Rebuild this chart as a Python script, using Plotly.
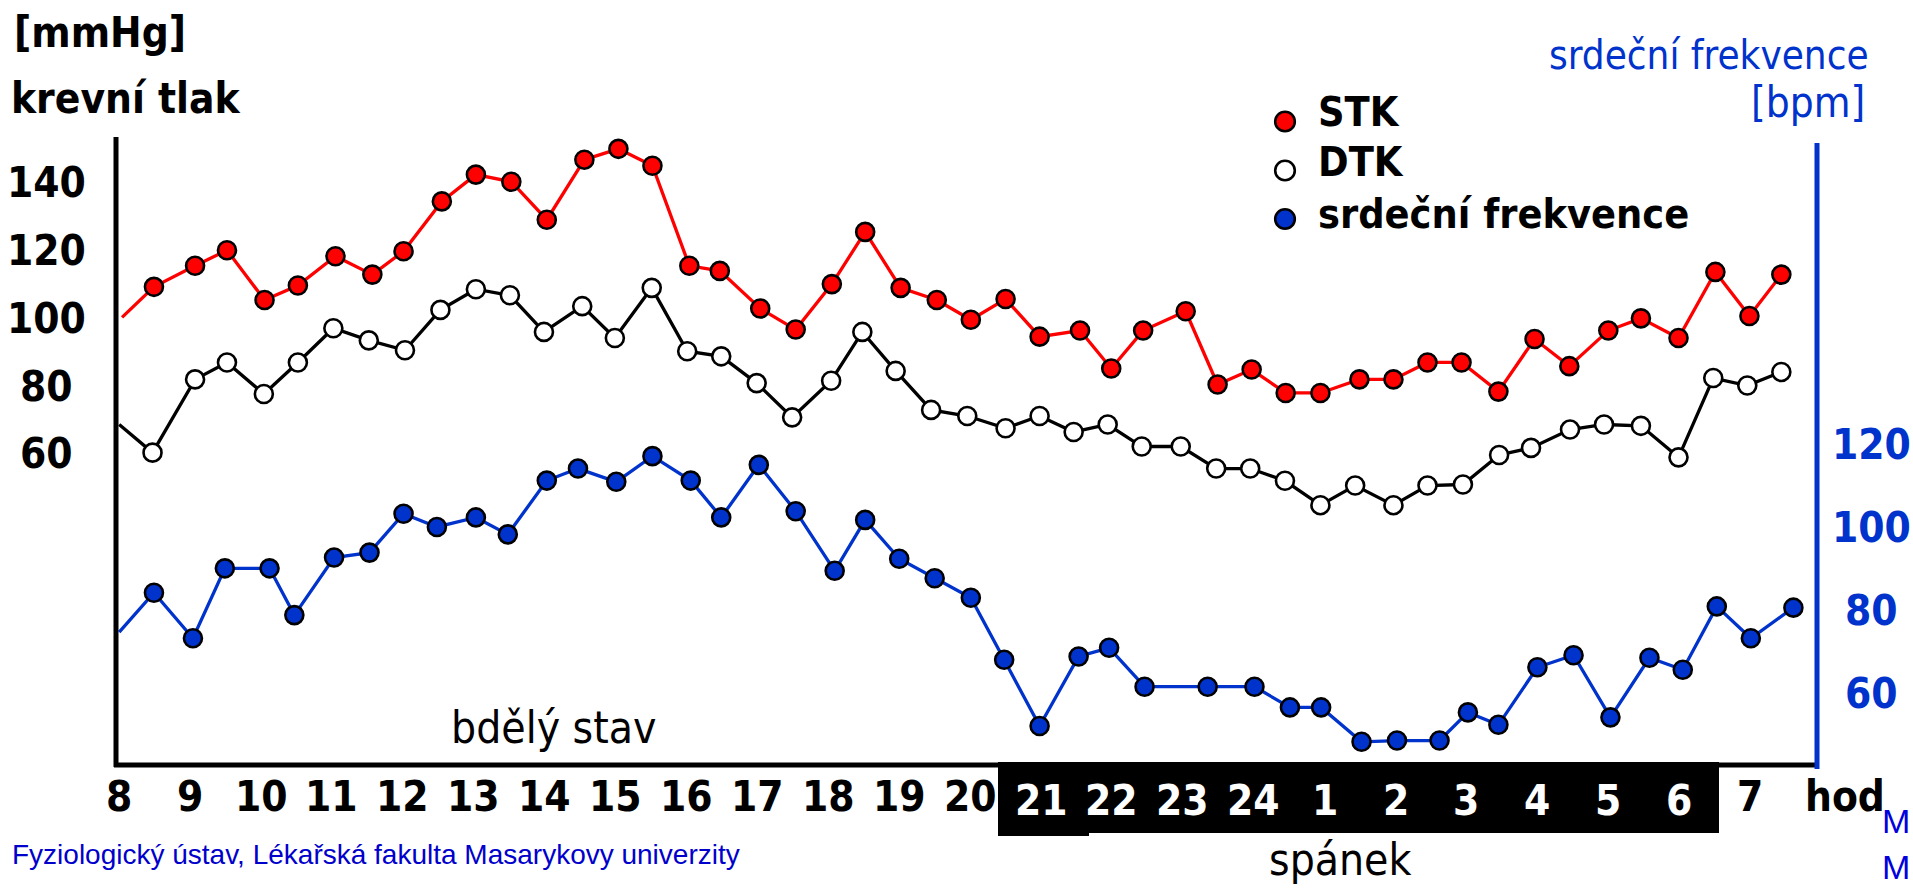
import plotly.graph_objects as go

# ---------------- data (hours: 8 = 8:00 ... 24 = midnight ... 31 = 7:00 next day)
stk_hours = [8.04, 8.49, 9.07, 9.52, 10.05, 10.52, 11.05, 11.57, 12.01, 12.55, 13.03, 13.53,
             14.03, 14.56, 15.04, 15.52, 16.04, 16.47, 17.04, 17.54, 18.05, 18.52, 19.02, 19.53,
             20.01, 20.50, 20.98, 21.55, 21.99, 22.44, 23.04, 23.49, 23.97, 24.45, 24.94, 25.49,
             25.97, 26.45, 26.93, 27.45, 27.96, 28.45, 29.00, 29.46, 29.99, 30.51, 30.99, 31.44]
stk_values = [100.3, 109.3, 115.5, 120.1, 105.4, 109.7, 118.3, 112.9, 119.8, 134.5, 142.4, 140.3,
              129.1, 146.8, 150.0, 145.0, 115.5, 114.0, 102.9, 96.7, 110.1, 125.5, 109.0, 105.4,
              99.6, 105.7, 94.6, 96.4, 85.2, 96.4, 102.1, 80.5, 84.9, 78.0, 78.0, 82.0,
              82.0, 87.0, 87.0, 78.4, 93.9, 85.9, 96.4, 100.0, 94.2, 113.7, 100.7, 112.9]

dtk_hours = [8.00, 8.47, 9.07, 9.52, 10.04, 10.52, 11.02, 11.52, 12.03, 12.53, 13.03, 13.51,
             13.99, 14.53, 14.99, 15.51, 16.01, 16.49, 16.99, 17.49, 18.04, 18.48, 18.95, 19.45,
             19.96, 20.50, 20.98, 21.46, 21.94, 22.42, 22.97, 23.47, 23.95, 24.44, 24.94, 25.43,
             25.97, 26.45, 26.95, 27.46, 27.91, 28.46, 28.94, 29.46, 29.99, 30.48, 30.96, 31.44]
dtk_values = [68.7, 60.4, 82.0, 87.0, 77.7, 87.0, 97.1, 93.5, 90.6, 102.5, 108.6, 106.8,
              96.0, 103.6, 94.2, 109.0, 90.3, 88.8, 80.9, 70.8, 81.6, 96.0, 84.5, 73.0,
              71.2, 67.6, 71.2, 66.5, 68.7, 62.2, 62.2, 55.7, 55.7, 52.1, 44.9, 50.7,
              44.9, 50.7, 51.0, 59.7, 61.8, 67.2, 68.7, 68.3, 59.0, 82.4, 80.2, 84.2]

hr_hours = [8.00, 8.49, 9.04, 9.49, 10.12, 10.47, 11.03, 11.53, 12.01, 12.48, 13.03, 13.48,
            14.03, 14.47, 15.01, 15.52, 16.06, 16.49, 17.02, 17.54, 18.09, 18.52, 19.00, 19.50,
            20.01, 20.48, 20.98, 21.53, 21.96, 22.46, 23.35, 24.01, 24.51, 24.95, 25.52, 26.02,
            26.62, 27.02, 27.45, 28.00, 28.51, 29.03, 29.58, 30.05, 30.53, 31.01, 31.61]
hr_values = [74.8, 84.3, 73.3, 90.2, 90.2, 78.9, 92.8, 94.0, 103.4, 100.2, 102.5, 98.4,
             111.4, 114.3, 111.1, 117.3, 111.4, 102.5, 115.2, 104.0, 89.6, 101.9, 92.5, 87.8,
             83.1, 68.1, 52.1, 68.9, 71.0, 61.6, 61.6, 61.6, 56.6, 56.6, 48.3, 48.6,
             48.6, 55.4, 52.4, 66.3, 69.2, 54.2, 68.6, 65.7, 81.0, 73.3, 80.7]

tick_hours = list(range(8, 32))
tick_labels = ["8", "9", "10", "11", "12", "13", "14", "15", "16", "17", "18", "19", "20",
               "21", "22", "23", "24", "1", "2", "3", "4", "5", "6", "7"]
sleep_hours = list(range(21, 31))          # 21 ... 6  (spánek)
bp_ticks = [60, 80, 100, 120, 140]
hr_ticks = [60, 80, 100, 120]

series_names = ["STK", "DTK", "srdeční frekvence"]

# ---------------- layout geometry (pixels)
W, H = 1913, 893
L, R, T, B = 116, 1817, 137, 765


def fx(p):
    return (p - L) / (R - L)


def fy(p):
    return (B - p) / (B - T)


BOLD = "DejaVu Sans Condensed, DejaVu Sans, Verdana, sans-serif"
BLUE = "#0033CC"
RED = "#FF0000"

fig = go.Figure()


def add_series(xs, ys, color, fill, axis):
    op = [0] + [1] * (len(xs) - 1)   # the first point is just the lead-in of the line
    fig.add_trace(go.Scatter(
        x=xs, y=ys, yaxis=axis, mode="lines+markers",
        line=dict(color=color, width=3.3),
        marker=dict(size=18, color=fill, opacity=op, line=dict(color="black", width=2.6)),
        showlegend=False, hoverinfo="skip", cliponaxis=False))


add_series(stk_hours, stk_values, RED, RED, "y")
add_series(dtk_hours, dtk_values, "black", "white", "y")
add_series(hr_hours, hr_values, BLUE, BLUE, "y2")

shapes = []
# black band behind the night hours
shapes.append(dict(type="rect", xref="paper", yref="paper", x0=fx(998), x1=fx(1719),
                   y0=fy(833), y1=fy(762), fillcolor="black", line=dict(width=0), layer="below"))
shapes.append(dict(type="rect", xref="paper", yref="paper", x0=fx(998), x1=fx(1089),
                   y0=fy(836), y1=fy(832), fillcolor="black", line=dict(width=0), layer="below"))
# axis lines
shapes.append(dict(type="line", xref="paper", yref="paper", x0=fx(116), x1=fx(116),
                   y0=fy(137), y1=fy(767), line=dict(color="black", width=5)))
shapes.append(dict(type="line", xref="paper", yref="paper", x0=fx(114), x1=fx(1819),
                   y0=fy(765), y1=fy(765), line=dict(color="black", width=5)))
shapes.append(dict(type="line", xref="paper", yref="paper", x0=fx(1817), x1=fx(1817),
                   y0=fy(143), y1=fy(769), line=dict(color=BLUE, width=5)))

# legend markers
legend_y = [121.5, 170.5, 219]
legend_fill = [RED, "white", BLUE]
for yy, fc in zip(legend_y, legend_fill):
    shapes.append(dict(type="circle", xref="paper", yref="paper",
                       x0=fx(1285 - 9.8), x1=fx(1285 + 9.8), y0=fy(yy + 9.8), y1=fy(yy - 9.8),
                       fillcolor=fc, line=dict(color="black", width=2.6)))

ann = []


def text(s, x, y, size, color="black", family=BOLD, weight="bold", xanchor="left",
         xref="paper", yref="paper"):
    ann.append(dict(text=s, x=x, y=y, xref=xref, yref=yref, xanchor=xanchor, yanchor="middle",
                    showarrow=False, font=dict(family=family, size=size, color=color, weight=weight)))


# left axis labels
for v in bp_ticks:
    text(str(v), fx(46), v, 42, xanchor="center", yref="y")
# right axis labels
for v in hr_ticks:
    text(str(v), fx(1871), v, 42, color=BLUE, xanchor="center", yref="y2")
# x labels
for h, lab in zip(tick_hours, tick_labels):
    if h in sleep_hours:
        text(lab, h, fy(800.5), 42, color="white", xanchor="center", xref="x")
    else:
        text(lab, h, fy(796), 42, xanchor="center", xref="x")
text("hod", fx(1845), fy(796), 42, xanchor="center")

# titles
text("[mmHg]", fx(12), fy(32.5), 42)
text("krevní tlak", fx(9), fy(98.5), 42)
text("srdeční frekvence", fx(1871), fy(54.5), 40, color=BLUE, weight="normal", xanchor="right")
text("[bpm]", fx(1867), fy(103), 42, color=BLUE, weight="normal", xanchor="right")

# legend labels
for name, yy in zip(series_names, [112.2, 161.5, 213.8]):
    text(name, fx(1316), fy(yy), 41)

text("bdělý stav", fx(449), fy(727.8), 44, weight="normal")
text("spánek", fx(1267), fy(859.8), 44, weight="normal")
text("Fyziologický ústav, Lékařská fakulta Masarykovy univerzity", fx(10), fy(854), 28,
     color="#0000CC", family="Liberation Sans, Arial, sans-serif", weight="normal")
NARROW = "Liberation Sans Narrow, Liberation Sans, sans-serif"
text("M", fx(1912), fy(821), 34, color="#0000DD", family=NARROW, weight="normal", xanchor="right")
text("M", fx(1912), fy(867), 34, color="#0000DD", family=NARROW, weight="normal", xanchor="right")

x_lo = 8 + (L - 119.2) / 70.91
x_hi = 8 + (R - 119.2) / 70.91

fig.update_layout(
    width=W, height=H, autosize=False,
    margin=dict(l=L, r=W - R, t=T, b=H - B, pad=0),
    paper_bgcolor="white", plot_bgcolor="white",
    showlegend=False,
    xaxis=dict(range=[x_lo, x_hi], showgrid=False, zeroline=False, showline=False,
               showticklabels=False, ticks="", tickvals=tick_hours, ticktext=tick_labels),
    yaxis=dict(range=[-31.73, 153.49], showgrid=False, zeroline=False, showline=False,
               showticklabels=False, ticks="", tickvals=bp_ticks),
    yaxis2=dict(range=[42.69, 194.40], overlaying="y", side="right", showgrid=False,
                zeroline=False, showline=False, showticklabels=False, ticks="", tickvals=hr_ticks),
    shapes=shapes, annotations=ann,
)

fig.write_html("out.html", config={"displayModeBar": False},
               post_script="document.body.style.margin='0';document.body.style.overflow='hidden';")
